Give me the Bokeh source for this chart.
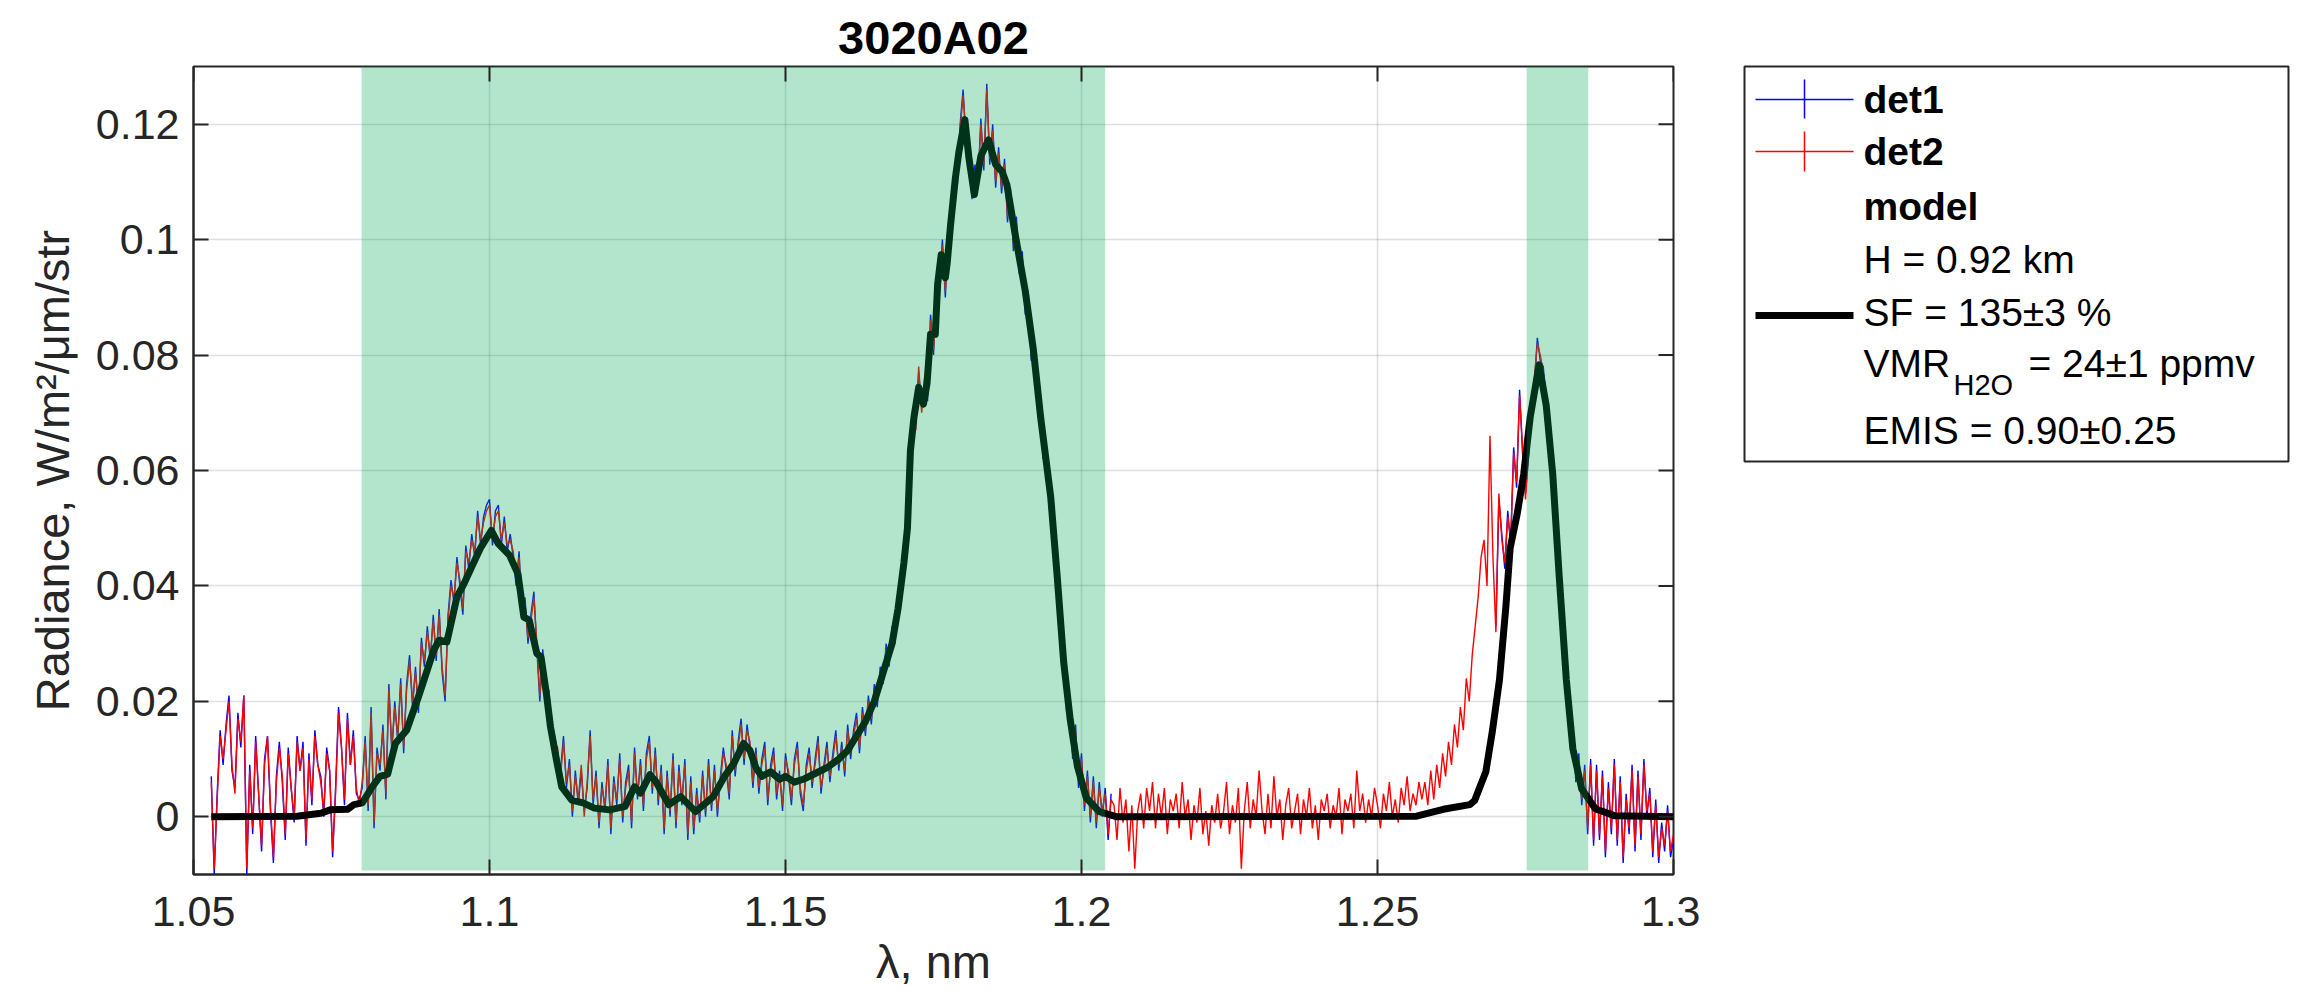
import numpy as np
from bokeh.plotting import figure
from bokeh.models import FixedTicker, Range1d
from bokeh.layouts import row
from bokeh.embed import file_html
from bokeh.resources import INLINE
from bokeh.core.properties import value

# ---------------- data ----------------
title_text = "3020A02"
x_label = "λ, nm"
y_label = "Radiance, W/m²/μm/str"
x_ticks = [1.05, 1.1, 1.15, 1.2, 1.25, 1.3]
x_tick_labels = ["1.05", "1.1", "1.15", "1.2", "1.25", "1.3"]
y_ticks = [0, 0.02, 0.04, 0.06, 0.08, 0.1, 0.12]
y_tick_labels = ["0", "0.02", "0.04", "0.06", "0.08", "0.1", "0.12"]
x_lim = (1.05, 1.3)
y_lim = (-0.01, 0.13)

# fitted spectral windows (green bands)
band_lo = [1.0784, 1.2752]
band_hi = [1.2040, 1.2856]
band_bottom = -0.0093
band_top = 0.13

# wavelength grid of the measured spectra (um)
wl_start = 1.053
wl_step = 0.0005

# det2 radiance, in units of 1e-3 W/m2/um/str
det2_a = [6, -9, 3, 14, 10, 15, 20, 9, 4, 17, 13, 21, -9, 8, -2, 13, 4, -5, 9, 14,
          2, -7, 6, 12, 7, -3, 11, 5, 0, 13, 8, 12, -4, 10, 3, 14, 9, 6, 1, 11,
          8, -6, 4, 18, 12, 3, 17, 9, 14, 5, 2]
det2_b = [6, 13, 2, 18, -1, 11, 9, 15, 4, 22, 12, 19, 14, 23, 12, 22, 27, 20, 25, 19,
          30, 27, 32, 28, 34, 28, 35, 26, 21, 34, 40, 38, 44, 41, 36, 46, 44, 48, 46, 52,
          48, 51, 53, 54, 48, 52, 53, 48, 51, 47, 48, 46, 41, 45, 36, 37, 31, 34, 38, 30,
          21, 28, 23, 21, 17, 13, 12, 7, 13, 6, 9, 1, 7, 3]
det2_c = [9, 0, 6, 14, 3, 7, -1, 5, 2, 9, -2, 6, 3, 10, 0, 5, 8, -1, 11, 4,
          9, 2, 10, 13, 5, 11, 3, 8, -2, 7, 1, 10, -1, 8, 3, 9, -3, 6, -2, 4,
          0, 7, 1, 9, 2,
          8, 1, 6, 11, 9, 4, 14, 8, 12, 16, 10, 15, 13, 6, 11, 5, 9, 12, 3, 8,
          11, 4, 7, 2, 10, 8, 3, 9, 12, 5, 2, 8, 11, 6, 9, 13, 5, 8, 12, 7,
          10, 14, 9, 12, 8, 15, 11, 14, 17, 12, 18, 15, 20, 17, 22, 20, 25, 24, 29, 27,
          32, 31, 38, 39, 46]
det2_d = [52, 58, 71, 67, 78, 70, 75, 73, 86, 81, 90, 93, 99, 91, 100, 102, 111, 110, 119, 125,
          118, 116, 108, 112, 110, 120, 113, 126, 114, 119, 110, 115, 109, 113, 104, 108, 99, 103, 95, 97,
          88, 90, 80, 82, 72, 73, 63, 64, 55, 54, 44, 43, 31, 29, 19, 20, 11, 15, 6, 10,
          2, 7, 0, 6, -1, 5, 1, 4, -3, 3]
det2_e = [2, -4, 5, -1, 3, -6, 2, -9, 1, 4, -2, 5, 1, 6, -2, 4, 0, 5, -3, 3,
          1, 4, -2, 6, 0, 3, -4, 2, -1, 5, -3, 1, -5, 2, -1, 4, -2, 1, 6, -3,
          2, -1, 5, -9, 1, 6, -2, 3, 0, 8, 1, -3, 4, -2, 7, 0, 3, -4, 2, 5,
          -2, 1, 4, -3, 3, 0, 5, -2, 2, -4, 3, 1, 4, -2, 2, 0, 5, -3, 3, 1,
          4, -2, 8, 1, 4, -1, 3, 0, 5, 2, -2, 4, 1, 6, 0, 3, -1, 5, 2, 7,
          1, 4, 2, 6, 3]
det2_f = [6, 2, 8, 3, 9, 5, 11, 7, 13, 9, 16, 12, 19, 15, 24, 20, 28, 33, 38, 45,
          48, 40, 66, 45, 32, 56, 48, 44, 52, 48, 63, 58, 73, 64, 55, 63, 71, 76, 82]
det2_g = [80, 77, 73, 69, 58, 56, 43, 40, 29, 25, 16, 15, 7, 10, 3, 8, -2, 9, -4, 8,
          -3, 7, -6, 5, -2, 9, -4, 6, -7, 3, -2, 8, -5, 7, -3, 9, 1, 4, -6, 2,
          -7, -2, -5, 1, -6, -3]

# det1 radiance (1e-3 units): recorded over the first window and the 1.27 um band
det1_left = [7, -10, 4, 15, 9, 16, 21, 8, 5, 18, 12, 21, -10, 9, -3, 14, 4, -6, 10, 14,
             1, -8, 7, 13, 6, -4, 12, 5, -1, 14, 8, 13, -5, 11, 2, 15, 9, 7, 0, 12,
             8, -7, 5, 19, 12, 2, 18, 9, 15, 4, 3,
             5, 14, 1, 19, -2, 12, 8, 16, 3, 23, 11, 20, 13, 24, 11, 23, 28, 19, 26, 18,
             31, 26, 33, 27, 35, 27, 36, 25, 20, 35, 41, 37, 45, 40, 35, 47, 43, 49, 45, 53,
             47, 52, 54, 55, 47, 53, 54, 47, 52, 46, 49, 45, 40, 46, 35, 38, 30, 35, 39, 29,
             20, 29, 22, 22, 16, 14, 11, 8, 14, 5, 10, 0, 8, 2,
             8, 1, 5, 15, 2, 8, -2, 6, 1, 10, -3, 7, 2, 11, -1, 6, 9, -2, 12, 3,
             10, 1, 11, 14, 4, 12, 2, 9, -3, 8, 0, 11, -2, 9, 2, 10, -4, 7, -3, 5,
             -1, 8, 0, 10, 1,
             9, 0, 7, 12, 8, 3, 15, 7, 13, 17, 9, 16, 12, 5, 12, 4, 10, 13, 2, 9,
             12, 3, 8, 1, 11, 7, 2, 10, 13, 4, 1, 9, 12, 5, 10, 14, 4, 9, 13, 6,
             11, 15, 8, 13, 7, 16, 10, 15, 18, 11, 19, 14, 21, 16, 23, 19, 26, 23, 30, 26,
             33, 30, 39, 38, 47,
             51, 59, 70, 68, 77, 71, 76, 72, 87, 80, 91, 92, 100, 90, 101, 101, 112, 109, 120, 126,
             117, 117, 107, 113, 109, 121, 112, 127, 113, 120, 109, 116, 108, 114, 103, 109, 98, 104, 94, 98,
             87, 91, 79, 83, 71, 74, 62, 65, 54, 55, 43, 44, 30, 30, 18, 21, 10, 16, 5, 11,
             1, 8, -1, 7, -2, 6, 0, 5, -4, 4]
det1_right = [33, 55, 49, 43, 53, 47, 64, 57, 74, 63, 56, 62, 72, 75, 83,
              79, 78, 72, 70, 57, 57, 42, 41, 28, 26, 15, 16, 6, 11, 2, 9, -3, 10, -5, 9,
              -4, 8, -7, 6, -3, 10, -5, 7, -8, 4, -3, 9, -6, 8, -4, 10, 0, 5, -7, 3,
              -8, -1, -6, 2, -7, -4]

# model spectrum (wavelength um, radiance 1e-3 units)
model_wl = [1.0530, 1.0675, 1.0715, 1.0731, 1.0760, 1.0771, 1.0785, 1.0802, 1.0815, 1.0828,
            1.0841, 1.0860, 1.0880, 1.0906, 1.0915, 1.0928, 1.0945, 1.0957, 1.0970, 1.0985,
            1.1003, 1.1015, 1.1034, 1.1048, 1.1058, 1.1067, 1.1080, 1.1087, 1.1096, 1.1103,
            1.1113, 1.1122, 1.1139, 1.1158, 1.1177, 1.1203, 1.1229, 1.1245, 1.1255, 1.1271,
            1.1281, 1.1303, 1.1323, 1.1348, 1.1378, 1.1397, 1.1413, 1.1429, 1.1440, 1.1450,
            1.1460, 1.1475, 1.1490, 1.1500, 1.1515, 1.1530, 1.1550, 1.1570, 1.1590, 1.1605,
            1.1620, 1.1635, 1.1650, 1.1665, 1.1680, 1.1690, 1.1700, 1.1706, 1.1711, 1.1717,
            1.1725, 1.1733, 1.1739, 1.1745, 1.1753, 1.1757, 1.1763, 1.1770, 1.1773, 1.1779,
            1.1787, 1.1793, 1.1803, 1.1810, 1.1819, 1.1830, 1.1843, 1.1855, 1.1866, 1.1874,
            1.1889, 1.1905, 1.1919, 1.1931, 1.1948, 1.1959, 1.1970, 1.1981, 1.1993, 1.2008,
            1.2030, 1.2060, 1.2566, 1.2611, 1.2656, 1.2664, 1.2683, 1.2694, 1.2706, 1.2717,
            1.2724, 1.2736, 1.2747, 1.2758, 1.2773, 1.2785, 1.2796, 1.2807, 1.2819, 1.2830,
            1.2845, 1.2868, 1.2900, 1.3000]
model_rad = [0.0, 0.1, 0.6, 1.2, 1.3, 2.1, 2.4, 5.2, 7.0, 7.4,
             12.7, 15.0, 20.8, 28.9, 30.6, 30.3, 38.1, 40.4, 43.3, 46.6,
             49.6, 47.3, 45.3, 42.1, 34.6, 34.1, 28.3, 27.7, 21.4, 15.6,
             9.9, 5.2, 2.9, 2.4, 1.5, 1.2, 1.8, 5.2, 4.1, 7.3,
             6.1, 2.1, 3.5, 0.9, 3.5, 7.0, 9.3, 12.7, 11.5, 8.5,
             7.0, 7.8, 6.5, 7.0, 6.0, 6.5, 7.5, 8.5, 10.0, 11.5,
             14.0, 16.5, 20.0, 25.0, 30.0, 36.0, 44.0, 50.0, 63.4, 69.2,
             74.4, 71.5, 75.0, 83.6, 83.6, 92.3, 97.4, 93.4, 95.8, 102.7,
             110.7, 115.3, 120.8, 114.0, 107.8, 114.5, 117.3, 113.0, 111.8, 109.5,
             100.3, 91.1, 80.7, 69.2, 55.4, 41.6, 26.7, 16.8, 8.8, 3.3,
             0.9, 0.0, 0.1, 1.3, 2.1, 2.8, 7.8, 14.8, 23.7, 36.6,
             46.5, 52.5, 59.4, 69.3, 78.3, 71.3, 59.4, 41.6, 23.7, 11.8,
             4.8, 1.4, 0.2, 0.0]

legend_bold = ["det1", "det2", "model"]
legend_plain = ["H = 0.92 km", "SF = 135±3 %"]
legend_vmr = ["VMR", "H2O", "= 24±1 ppmv"]
legend_emis = ["EMIS = 0.90±0.25"]

# ---------------- assemble arrays ----------------
det2 = np.array(det2_a + det2_b + det2_c + det2_d + det2_e + det2_f + det2_g, dtype=float) * 1e-3
wl = wl_start + wl_step * np.arange(len(det2))
det1 = np.full(len(det2), np.nan)
det1[:len(det1_left)] = np.array(det1_left, dtype=float) * 1e-3
det1[len(det2) - len(det1_right):] = np.array(det1_right, dtype=float) * 1e-3
model_y = np.array(model_rad) * 1e-3

FONT = "Liberation Sans"
AX = "#262626"
FW, FH = 1480, 808
TICK = 15

# ---------------- main plot ----------------
p = figure(frame_width=FW, frame_height=FH,
           x_range=Range1d(*x_lim), y_range=Range1d(*y_lim),
           min_border_left=193, min_border_right=27, min_border_top=66, min_border_bottom=133,
           output_backend="svg", toolbar_location=None,
           background_fill_color="white", border_fill_color="white")

p.title.text = title_text
p.title.align = "center"
p.title.text_font = FONT
p.title.text_font_size = "47px"
p.title.text_font_style = "bold"
p.title.text_color = "black"
p.title.standoff = 6

for ax in (p.xaxis[0], p.yaxis[0]):
    ax.major_label_text_font = FONT
    ax.major_label_text_font_size = "43px"
    ax.major_label_text_color = AX
    ax.axis_label_text_font = FONT
    ax.axis_label_text_font_size = "47px"
    ax.axis_label_text_font_style = "normal"
    ax.axis_label_text_color = AX
    ax.axis_line_color = AX
    ax.axis_line_width = 2
    ax.major_tick_line_color = AX
    ax.major_tick_line_width = 2
    ax.major_tick_in = TICK
    ax.major_tick_out = 0
    ax.minor_tick_in = 0
    ax.minor_tick_out = 0

p.xaxis[0].ticker = FixedTicker(ticks=x_ticks)
p.xaxis[0].major_label_overrides = dict(zip(x_ticks, x_tick_labels))
p.xaxis[0].axis_label = x_label
p.xaxis[0].major_label_standoff = 22
p.xaxis[0].axis_label_standoff = 6
p.yaxis[0].ticker = FixedTicker(ticks=y_ticks)
p.yaxis[0].major_label_overrides = dict(zip(y_ticks, y_tick_labels))
p.yaxis[0].axis_label = y_label
p.yaxis[0].major_label_standoff = 14
p.yaxis[0].axis_label_standoff = 14

p.xgrid.ticker = FixedTicker(ticks=x_ticks)
p.ygrid.ticker = FixedTicker(ticks=y_ticks)
for g in (p.xgrid[0], p.ygrid[0]):
    g.grid_line_color = AX
    g.grid_line_alpha = 0.15
    g.grid_line_width = 1.5
p.outline_line_color = AX
p.outline_line_width = 2

p.line(wl, det1, line_color="#0000ff", line_width=1.4)
p.line(wl, det2, line_color="#ff0000", line_width=1.4)
p.line(model_wl, model_y, line_color="black", line_width=7, line_join="round")
p.quad(left=band_lo, right=band_hi, bottom=band_bottom, top=band_top,
       fill_color=(0, 170, 85), fill_alpha=0.3, line_color=None)

# inward tick marks on the top and right edges of the box (as in a boxed MATLAB axes)
dy = TICK * (y_lim[1] - y_lim[0]) / FH
dx = TICK * (x_lim[1] - x_lim[0]) / FW
p.segment(x0=x_ticks, y0=[y_lim[1]] * len(x_ticks), x1=x_ticks, y1=[y_lim[1] - dy] * len(x_ticks),
          line_color=AX, line_width=2)
p.segment(x0=[x_lim[1]] * len(y_ticks), y0=y_ticks, x1=[x_lim[1] - dx] * len(y_ticks), y1=y_ticks,
          line_color=AX, line_width=2)

# ---------------- legend panel ----------------
leg = figure(frame_width=544, frame_height=395, x_range=Range1d(0, 544), y_range=Range1d(0, 395),
             x_axis_type=None, y_axis_type=None,
             min_border_left=44, min_border_right=17, min_border_top=66, min_border_bottom=546,
             output_backend="svg", toolbar_location=None,
             background_fill_color="white", border_fill_color="white")
leg.title.visible = False
leg.grid.visible = False
leg.outline_line_color = AX
leg.outline_line_width = 2

row_y = [362, 310, 255, 202, 149, 98, 31]
sym_x0, sym_x1, sym_xc, txt_x = 11, 109, 60, 119

leg.segment(x0=[sym_x0], y0=[row_y[0]], x1=[sym_x1], y1=[row_y[0]], line_color="#0000ff", line_width=1.5)
leg.segment(x0=[sym_xc], y0=[row_y[0] - 19], x1=[sym_xc], y1=[row_y[0] + 20], line_color="#0000ff", line_width=1.5)
leg.segment(x0=[sym_x0], y0=[row_y[1]], x1=[sym_x1], y1=[row_y[1]], line_color="#ff0000", line_width=1.5)
leg.segment(x0=[sym_xc], y0=[row_y[1] - 20], x1=[sym_xc], y1=[row_y[1] + 20], line_color="#ff0000", line_width=1.5)
leg.segment(x0=[sym_x0], y0=[row_y[4] - 3], x1=[sym_x1], y1=[row_y[4] - 3], line_color="black", line_width=7)

leg.text(x=[txt_x] * 3, y=row_y[:3], text=legend_bold, text_font=value(FONT),
         text_font_size="39px", text_font_style="bold", text_color="black", text_baseline="middle")
leg.text(x=[txt_x] * 2, y=row_y[3:5], text=legend_plain, text_font=value(FONT),
         text_font_size="39px", text_color="black", text_baseline="middle")
leg.text(x=[txt_x, 209, 284], y=[row_y[5], row_y[5] - 21, row_y[5]], text=legend_vmr, text_font=value(FONT),
         text_font_size=["39px", "29px", "39px"], text_color="black", text_baseline="middle")
leg.text(x=[txt_x], y=[row_y[6]], text=legend_emis, text_font=value(FONT),
         text_font_size="39px", text_color="black", text_baseline="middle")

layout = row(p, leg)
open("out.html", "w").write(file_html(layout, INLINE))
